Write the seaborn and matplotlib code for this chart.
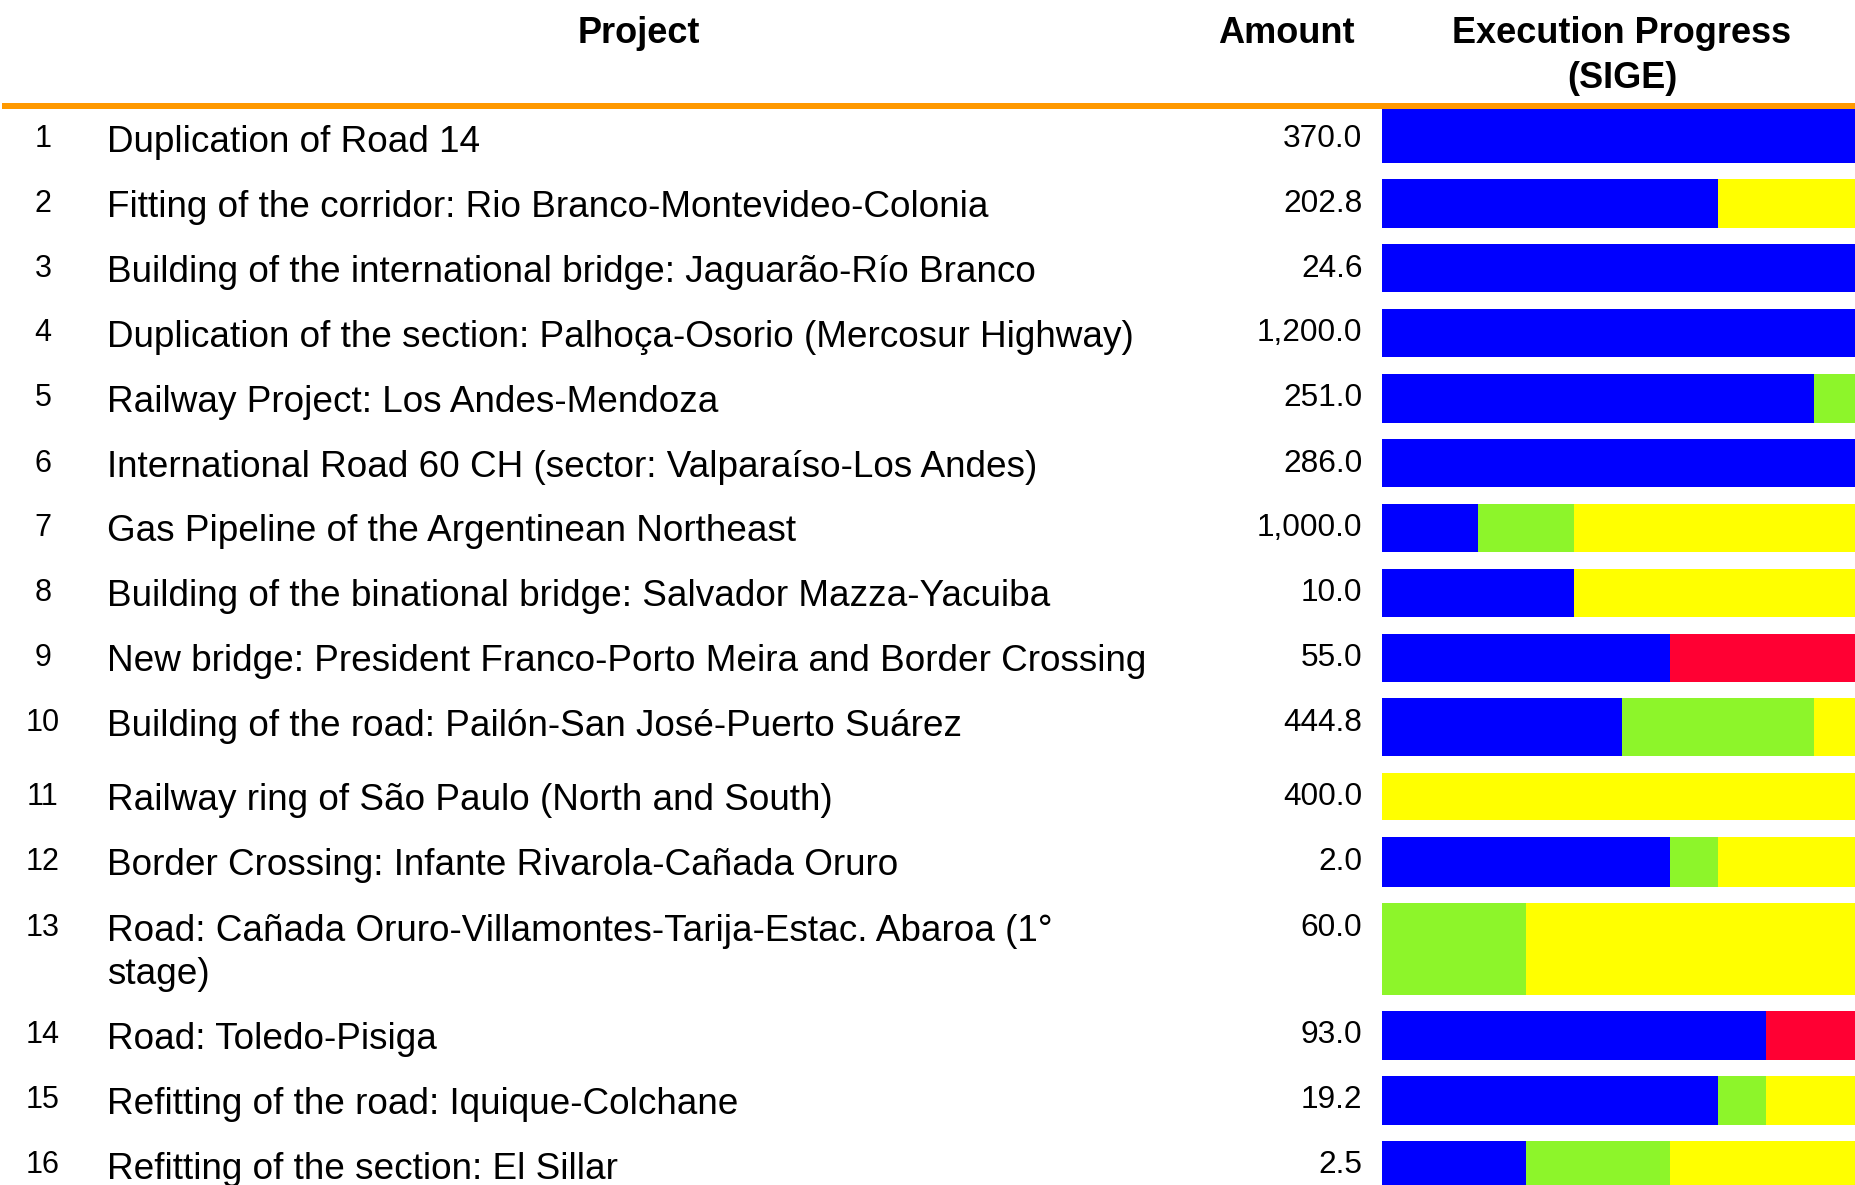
import numpy as np
import pandas as pd
import matplotlib
matplotlib.use("Agg")
import matplotlib.pyplot as plt
import seaborn as sns

# ---------------- data ----------------
row_ids = list(range(1, 17))
projects = [
    "Duplication of Road 14",
    "Fitting of the corridor: Rio Branco-Montevideo-Colonia",
    "Building of the international bridge: Jaguarão-Río Branco",
    "Duplication of the section: Palhoça-Osorio (Mercosur Highway)",
    "Railway Project: Los Andes-Mendoza",
    "International Road 60 CH (sector: Valparaíso-Los Andes)",
    "Gas Pipeline of the Argentinean Northeast",
    "Building of the binational bridge: Salvador Mazza-Yacuiba",
    "New bridge: President Franco-Porto Meira and Border Crossing",
    "Building of the road: Pailón-San José-Puerto Suárez",
    "Railway ring of São Paulo (North and South)",
    "Border Crossing: Infante Rivarola-Cañada Oruro",
    "Road: Cañada Oruro-Villamontes-Tarija-Estac. Abaroa (1°\nstage)",
    "Road: Toledo-Pisiga",
    "Refitting of the road: Iquique-Colchane",
    "Refitting of the section: El Sillar",
]
amounts = [370.0, 202.8, 24.6, 1200.0, 251.0, 286.0, 1000.0, 10.0,
           55.0, 444.8, 400.0, 2.0, 60.0, 93.0, 19.2, 2.5]
# execution progress shares (percent of bar)
blue_pct = [100, 70, 100, 100, 90, 100, 20, 40, 60, 50, 0, 60, 0, 80, 70, 30]
green_pct = [0, 0, 0, 0, 10, 0, 20, 0, 0, 40, 0, 10, 30, 0, 10, 30]
yellow_pct = [0, 30, 0, 0, 0, 0, 60, 60, 0, 10, 100, 30, 70, 0, 20, 40]
red_pct = [0, 0, 0, 0, 0, 0, 0, 0, 40, 0, 0, 0, 0, 20, 0, 0]
headers = ["Project", "Amount", "Execution Progress\n(SIGE)"]

# ---------------- layout (pixels, figure 1856 x 1185) ----------------
W, H = 1856, 1185
bar_top = [109.3, 179.3, 244.3, 309.0, 374.0, 439.3, 503.7, 568.7, 633.7,
           698.3, 772.7, 837.3, 903.3, 1011.0, 1076.0, 1141.0]
bar_h = [53.4, 48.7, 48.0, 48.0, 48.7, 48.0, 48.6, 48.6, 48.0, 57.7, 47.3,
         49.4, 91.4, 49.0, 49.0, 49.0]
text_y = [139.0] + [t + 24.5 for t in bar_top[1:]]
BAR_X0, BAR_W = 1382.4, 480.0
PAL = {"blue": "#0000FF", "green": "#8DF52A", "yellow": "#FFFF00", "red": "#FF0033"}
ORANGE = "#FF9900"

sns.set_theme(style="white")
plt.rcParams["font.family"] = ["Liberation Sans", "DejaVu Sans"]

DPI = 100
fig = plt.figure(figsize=(W / DPI, H / DPI), dpi=DPI)
fig.patch.set_facecolor("white")

def pt(px):
    return px * 72.0 / DPI

# background axes in pixel coordinates for the texts
ax_bg = fig.add_axes([0, 0, 1, 1])
ax_bg.set_xlim(0, W)
ax_bg.set_ylim(H, 0)
ax_bg.axis("off")

# bars axes (extends slightly past the right edge, like the reference)
axb = fig.add_axes([BAR_X0 / W, 0, BAR_W / W, 1])
axb.patch.set_alpha(0)

order = ["red", "yellow", "green", "blue"]
for i in range(len(projects)):
    c1 = blue_pct[i]
    c2 = c1 + green_pct[i]
    c3 = c2 + yellow_pct[i]
    c4 = c3 + red_pct[i]
    center = bar_top[i] + bar_h[i] / 2.0
    df = pd.DataFrame({
        "pos": [center] * 4,
        "value": [c4, c3, c2, c1],
        "status": order,
    })
    sns.barplot(data=df, x="value", y="pos", hue="status", hue_order=order,
                palette=PAL, dodge=False, native_scale=True, orient="y",
                width=bar_h[i], errorbar=None, saturation=1, linewidth=0,
                legend=False, ax=axb)

axb.set_xlim(0, 100)
axb.set_ylim(H, 0)
axb.axis("off")

# orange header rule
ax_bg.plot([2, W], [106, 106], color=ORANGE, lw=pt(6), solid_capstyle="butt")

# headers
HS = 26
ax_bg.text(638.5, 43.3, headers[0], fontsize=HS, fontweight="bold",
           ha="center", va="baseline", color="black")
ax_bg.text(1286, 43.3, headers[1], fontsize=HS, fontweight="bold",
           ha="center", va="baseline", color="black")
for k, line in enumerate(headers[2].split("\n")):
    ax_bg.text(1622, 43.3 + 45 * k, line, fontsize=HS, fontweight="bold",
               ha="center", va="baseline", color="black")

# rows
TS = 26.6   # project text
NS = 22.0   # row number
AS = 22.8   # amount
def half_cap(size):
    return 0.716 * size * DPI / 72.0 / 2.0

for i in range(len(projects)):
    y = text_y[i]
    ax_bg.text(43, y - 3 + half_cap(NS), str(row_ids[i]), fontsize=NS,
               ha="center", va="baseline", color="black")
    for k, line in enumerate(projects[i].split("\n")):
        ax_bg.text(106.7, y + 43 * k + half_cap(TS), line, fontsize=TS,
                   ha="left", va="baseline", color="black")
    ax_bg.text(1362.5, y - 3.5 + half_cap(AS), f"{amounts[i]:,.1f}",
               fontsize=AS, ha="right", va="baseline", color="black")

fig.savefig("out.png", dpi=DPI, facecolor="white")
